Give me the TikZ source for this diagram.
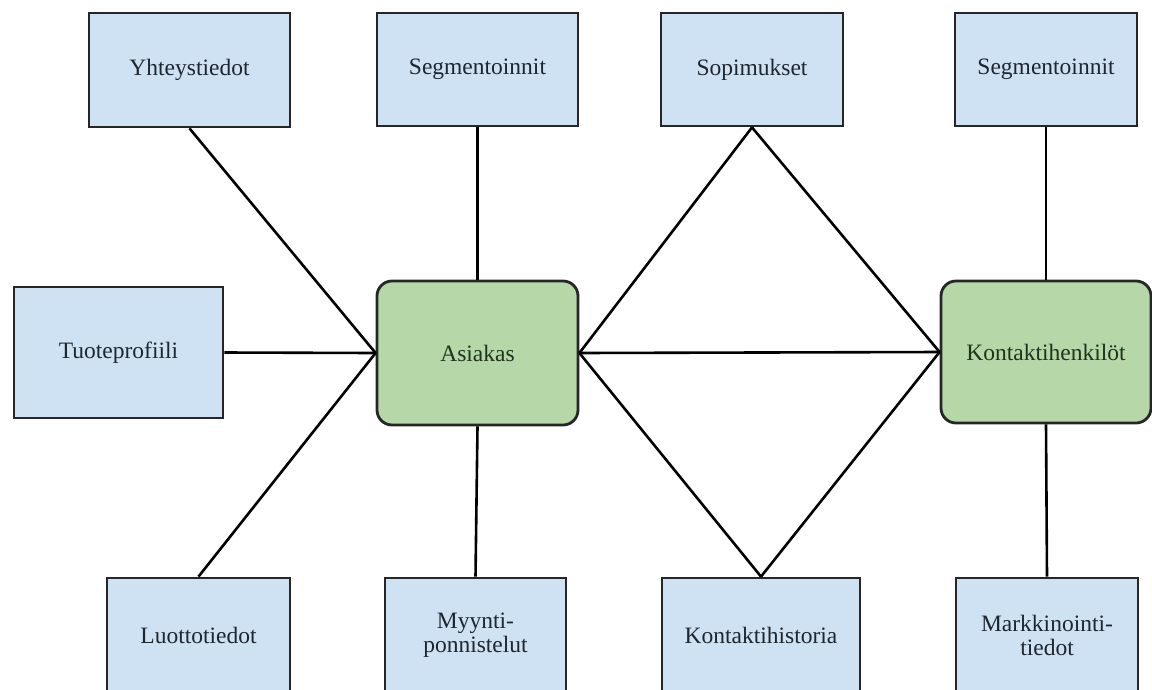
\documentclass[tikz,border=0pt]{standalone}
\usepackage{fontspec}
\setmainfont{Liberation Serif}
\definecolor{boxblue}{HTML}{CFE2F3}
\definecolor{boxgreen}{HTML}{B6D7A8}
\definecolor{inkdark}{HTML}{1E2630}
\definecolor{inkgreen}{HTML}{1F3320}
\begin{document}
\begin{tikzpicture}[x=1pt,y=-1pt,
  every node/.style={font=\fontsize{23.5}{26}\selectfont, align=center, inner sep=0pt},
  infobox/.style={draw=black!85, line width=2.8pt, fill=boxblue, text=inkdark},
  mainbox/.style={draw=black!85, line width=2.8pt, fill=boxgreen, text=inkgreen, rounded corners=15pt},
  link/.style={draw=black, line width=2.6pt}]
  \clip (0,0) rectangle (1152,689);
  \fill[white] (0,0) rectangle (1152,689);

  % central entities
  \node[mainbox, minimum width=201pt, minimum height=144pt] (asi) at (477.5,353) {Asiakas};
  \node[mainbox, minimum width=210pt, minimum height=142pt] (kon) at (1046,352) {Kontaktihenkilöt};

  % top row
  \node[infobox, minimum width=201pt, minimum height=114pt] (yht) at (189.5,70) {Yhteystiedot};
  \node[infobox, minimum width=201pt, minimum height=113pt] (seg1) at (477.5,69.5) {Segmentoinnit};
  \node[infobox, minimum width=182pt, minimum height=113pt] (sop) at (752,69.5) {Sopimukset};
  \node[infobox, minimum width=182pt, minimum height=113pt] (seg2) at (1046,69.5) {Segmentoinnit};

  % middle left
  \node[infobox, minimum width=209pt, minimum height=131pt] (tuo) at (118.5,352.5) {Tuoteprofiili};

  % bottom row (cut off by the lower edge)
  \node[infobox, minimum width=183pt, minimum height=114pt] (luo) at (198.5,635) {Luottotiedot};
  \node[infobox, minimum width=181pt, minimum height=114pt] (myy) at (475.5,635) {Myynti-\\[-2pt]ponnistelut};
  \node[infobox, minimum width=198pt, minimum height=114pt] (kh) at (761,635) {Kontaktihistoria};
  \node[infobox, minimum width=182pt, minimum height=114pt] (mar) at (1047,635) {Markkinointi-\\[-2pt]tiedot};

  % connectors
  \draw[link] (yht.south) -- (asi.west);
  \draw[link] (seg1.south) -- (asi.north);
  \draw[link] (tuo.east) -- (asi.west);
  \draw[link] (luo.north) -- (asi.west);
  \draw[link] (myy.north) -- (asi.south);
  \draw[link] (sop.south) -- (asi.east);
  \draw[link] (sop.south) -- (kon.west);
  \draw[link] (asi.east) -- (kon.west);
  \draw[link] (kh.north) -- (asi.east);
  \draw[link] (kh.north) -- (kon.west);
  \draw[link] (seg2.south) -- (kon.north);
  \draw[link] (mar.north) -- (kon.south);
\end{tikzpicture}
\end{document}
